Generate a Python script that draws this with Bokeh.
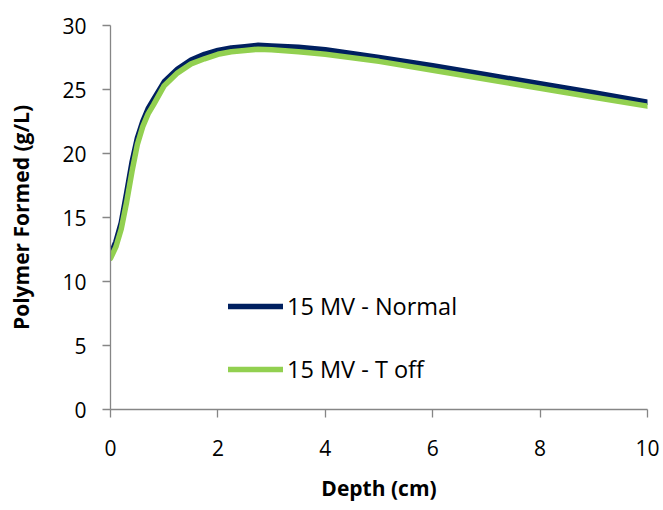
from bokeh.plotting import figure
from bokeh.models import Range1d, FixedTicker, Legend, LegendItem
from bokeh.embed import file_html
from bokeh.resources import INLINE

# Depth (cm) and polymer formed (g/L) for the two beam set-ups
depth = [0.0, 0.1, 0.2, 0.3, 0.4, 0.5, 0.6, 0.7, 0.8, 1.0, 1.25, 1.5, 1.75,
         2.0, 2.25, 2.5, 2.75, 3.0, 3.5, 4.0, 5.0, 6.0, 7.0, 8.0, 9.0, 10.0]
normal = [12.1, 13.1, 14.6, 16.9, 19.3, 21.2, 22.5, 23.5, 24.2, 25.6, 26.6,
          27.3, 27.75, 28.05, 28.25, 28.35, 28.45, 28.4, 28.3, 28.1, 27.5,
          26.85, 26.15, 25.45, 24.75, 24.0]
t_off = [11.8, 12.7, 14.1, 16.2, 18.6, 20.7, 22.1, 23.1, 23.8, 25.3, 26.3,
         27.0, 27.4, 27.75, 27.95, 28.05, 28.15, 28.1, 27.95, 27.75, 27.2,
         26.5, 25.8, 25.1, 24.4, 23.7]
series_names = ["15 MV - Normal", "15 MV - T off"]
series_colors = ["#002060", "#92D050"]
x_ticks = [0, 2, 4, 6, 8, 10]
y_ticks = [0, 5, 10, 15, 20, 25, 30]

FONT = "Open Sans"
AXIS_GREY = "#868686"

p = figure(width=663, height=510, frame_width=537, frame_height=384,
           min_border_left=110, min_border_right=16, min_border_top=25,
           min_border_bottom=101, output_backend="svg", toolbar_location=None,
           x_range=Range1d(0, 10), y_range=Range1d(0, 30))
p.outline_line_color = None
p.xgrid.visible = False
p.ygrid.visible = False
p.background_fill_color = "white"
p.border_fill_color = "white"

for ax in (p.xaxis[0], p.yaxis[0]):
    ax.axis_line_color = AXIS_GREY
    ax.axis_line_width = 1.3
    ax.major_tick_line_color = AXIS_GREY
    ax.major_tick_line_width = 1.3
    ax.major_tick_in = 0
    ax.major_tick_out = 8
    ax.minor_tick_line_color = None
    ax.major_label_text_font = FONT
    ax.major_label_text_font_size = "21px"
    ax.major_label_text_color = "#000000"
    ax.axis_label_text_font = FONT
    ax.axis_label_text_font_style = "bold"
    ax.axis_label_text_font_size = "21px"
    ax.axis_label_text_color = "#000000"

p.xaxis.ticker = FixedTicker(ticks=x_ticks)
p.yaxis.ticker = FixedTicker(ticks=y_ticks)
p.xaxis.axis_label = "Depth (cm)"
p.yaxis.axis_label = "Polymer Formed (g/L)"
p.xaxis.major_label_standoff = 22
p.yaxis.major_label_standoff = 16
p.xaxis.axis_label_standoff = 15
p.yaxis.axis_label_standoff = 24

r_normal = p.line(depth, normal, line_color=series_colors[0], line_width=5.5,
                  line_join="round", line_cap="round")
r_toff = p.line(depth, t_off, line_color=series_colors[1], line_width=5.5,
                line_join="round", line_cap="round")

legend = Legend(items=[LegendItem(label=series_names[0], renderers=[r_normal]),
                       LegendItem(label=series_names[1], renderers=[r_toff])],
                location=(118, 24), orientation="vertical",
                glyph_width=55, glyph_height=20, label_height=20,
                label_standoff=4, spacing=31, padding=0, margin=0,
                border_line_color=None, background_fill_alpha=0,
                label_text_font=FONT, label_text_font_size="23.5px",
                label_text_color="#000000")
p.add_layout(legend, "center")

open("out.html", "w").write(file_html(p, INLINE))
